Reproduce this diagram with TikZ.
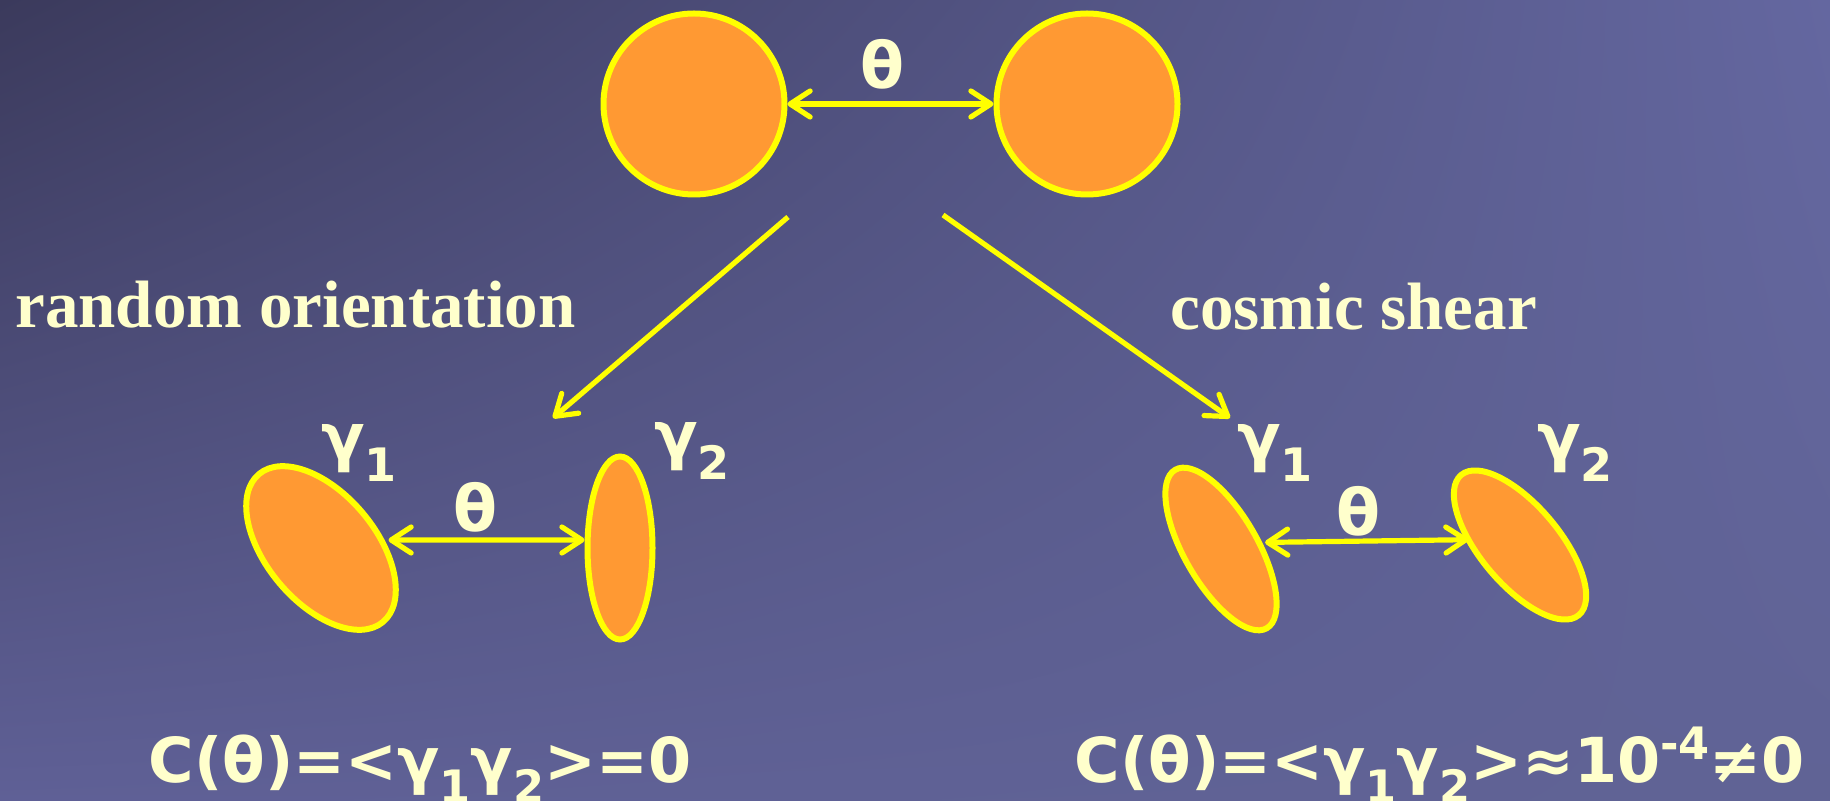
\documentclass[tikz,border=0pt]{standalone}
\usepackage{fontspec}
\usepackage{graphicx}
\setmainfont{Liberation Serif}
\newfontfamily\symfont{DejaVu Sans}
\usetikzlibrary{arrows.meta,shapes.geometric,shadings,positioning}

\definecolor{bgdark}{HTML}{3B3A5C}
\definecolor{bgtopr}{HTML}{6467A0}
\definecolor{bgbotl}{HTML}{5F6096}
\definecolor{bgbotr}{HTML}{606395}
\definecolor{galfill}{HTML}{FF9933}
\definecolor{galedge}{HTML}{FFFF00}
\definecolor{cream}{HTML}{FFFFCC}

% lowered / raised small digits
\newcommand{\dn}[1]{\raisebox{-0.33em}{\scalebox{0.72}{#1}}}
\newcommand{\upr}[1]{\raisebox{0.37em}{\scalebox{0.72}{#1}}}

\begin{document}
\begin{tikzpicture}[
    x=0.5pt, y=-0.5pt,
    src/.style={circle, draw=galedge, fill=galfill, line width=3pt, inner sep=0pt, minimum size=90.5pt},
    gal/.style={ellipse, draw=galedge, fill=galfill, line width=3pt, inner sep=0pt},
    arrow/.style={-{Straight Barb[length=10pt, width=13pt, round]}, line width=2.6pt, galedge},
    darrow/.style={{Straight Barb[length=10pt, width=13pt, round]}-{Straight Barb[length=10pt, width=13pt, round]}, line width=2.6pt, galedge},
    sym/.style={text=cream, font=\symfont\bfseries\fontsize{32}{35}\selectfont, inner sep=0pt},
    heading/.style={text=cream, font=\bfseries\fontsize{33.5}{36}\selectfont, inner sep=0pt, anchor=base west},
    formula/.style={text=cream, font=\symfont\bfseries\fontsize{31}{34}\selectfont, inner sep=0pt, anchor=base},
]

% Background
\useasboundingbox (0,0) rectangle (1830,801);
\shade[upper left=bgdark, upper right=bgtopr, lower left=bgbotl, lower right=bgbotr] (0,0) rectangle (1830,801);

% Source pair
\node[src] (srcA) at (694,104) {};
\node[src] (srcB) at (1087,104) {};
\draw[darrow] (srcA) -- (srcB);
\node[sym] (thtop) at (882,64) {θ};

% Branches
\coordinate (rndtail) at (788,217);
\coordinate (rndhead) at (553,418);
\coordinate (shrtail) at (943,215);
\coordinate (shrhead) at (1230,418);
\draw[arrow] (rndtail) -- (rndhead);
\draw[arrow] (shrtail) -- (shrhead);

\node[heading] (rndtext) at (15,328) {random orientation};
\node[heading] (shrtext) at (1170,330) {cosmic shear};

% Random orientation pair
\node[gal, minimum width=96.5pt, minimum height=54.5pt, rotate=-50] (rndA) at (321,548) {};
\node[gal, minimum width=32.5pt, minimum height=91.5pt] (rndB) at (620,548) {};
\draw[darrow, transform canvas={yshift=4pt}] (rndA) -- (rndB);
\node[sym] (thrnd) at (475,507) {θ};
\node[sym] (grndA) at (359,453) {γ\dn{1}};
\node[sym] (grndB) at (692,451) {γ\dn{2}};

% Sheared pair
\node[gal, minimum width=91.5pt, minimum height=36.5pt, rotate=-60] (shrA) at (1221,549) {};
\node[gal, minimum width=91.5pt, minimum height=39.5pt, rotate=-50] (shrB) at (1520,545) {};
\draw[darrow, transform canvas={yshift=3pt}] (shrA) -- (shrB);
\node[sym] (thshr) at (1358,511) {θ};
\node[sym] (gshrA) at (1275,453) {γ\dn{1}};
\node[sym] (gshrB) at (1575,453) {γ\dn{2}};

% Correlations
\node[formula] (corrnd) at (420,782) {C(θ)=<γ\dn{1}γ\dn{2}>=0};
\node[formula] (corshr) at (1440,782) {C(θ)=<γ\dn{1}γ\dn{2}>≈10\upr{-4}≠0};

\end{tikzpicture}
\end{document}
